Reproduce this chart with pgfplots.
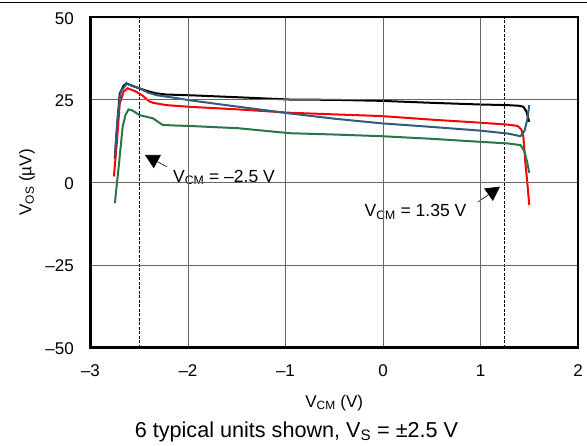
\documentclass[border=0pt]{standalone}
\usepackage{fontspec}
\setmainfont{Liberation Sans}
\usepackage{pgfplots}
\pgfplotsset{compat=1.18}
\usetikzlibrary{arrows.meta}
\definecolor{cblue}{RGB}{46,92,122}
\definecolor{cgreen}{RGB}{40,118,72}
\definecolor{cred}{RGB}{255,0,0}
\begin{document}
\begin{tikzpicture}
\useasboundingbox (-90.5pt,-97.5pt) rectangle (496.5pt,347.5pt);
\draw[line width=0.8pt] (-90.5pt,344.8pt) -- (496.5pt,344.8pt);
\begin{axis}[
  at={(0pt,0pt)}, anchor=south west,
  width=487.5pt, height=330.2pt, scale only axis,
  xmin=-3, xmax=2, ymin=-50, ymax=50,
  xtick={-3,-2,-1,0,1,2}, ytick={-50,-25,0,25,50},
  xticklabels={–3,–2,–1,0,1,2},
  yticklabels={–50,–25,0,25,50},
  major tick length=0pt,
  grid=major,
  major grid style={black!60, line width=0.8pt},
  axis line style={line width=2.2pt},
  axis on top,
  tick label style={font=\fontsize{17}{20}\selectfont},
  xticklabel style={anchor=base, yshift=-28.5pt},
  yticklabel style={anchor=east, inner sep=0pt, xshift=-16.5pt, yshift=-1pt},
  label style={font=\fontsize{17}{20}\selectfont},
  xlabel={V\textsubscript{CM} (V)},
  xlabel style={at={(axis description cs:0.5,-0.1802)}, anchor=base},
  ylabel={V\textsubscript{OS} (µV)},
  ylabel style={at={(axis description cs:-0.1303,0.5)}, anchor=center},
  clip=false,
]
% reference lines
\addplot[black, line width=0.6pt, dash pattern=on 3pt off 1.5pt] coordinates {(-2.5,-50) (-2.5,50)};
\addplot[black, line width=0.6pt, dash pattern=on 3pt off 1.5pt] coordinates {(1.24,-50) (1.24,50)};
% black
\addplot[black, line width=2pt] coordinates {
(-2.75,7.3) (-2.73,16) (-2.70,26.9) (-2.66,29.3) (-2.63,30.0) (-2.57,29.2) (-2.50,28.5) (-2.42,27.7)
(-2.33,27.0) (-2.22,26.6) (-1.99,26.4) (-1.5,25.8) (-0.96,25.1) (-0.5,25.0) (-0.02,24.7) (0.5,24.1)
(0.99,23.6) (1.28,23.4) (1.40,23.2) (1.44,22.9) (1.47,21.5) (1.50,18.4)};
% red
\addplot[cred, line width=2pt] coordinates {
(-2.76,1.8) (-2.73,12) (-2.70,23.9) (-2.66,27.5) (-2.62,28.5) (-2.54,27.6) (-2.47,26.4) (-2.40,24.6)
(-2.36,24.1) (-2.22,23.4) (-1.99,22.9) (-1.48,22.1) (-0.96,21.1) (-0.5,20.6) (-0.02,20.1) (0.5,19.0)
(0.99,18.1) (1.28,17.5) (1.38,17.1) (1.42,16.0) (1.44,13.8) (1.46,6) (1.48,0) (1.50,-6.8)};
% green
\addplot[cgreen, line width=2pt] coordinates {
(-2.75,-6.3) (-2.71,5) (-2.67,16.9) (-2.64,20.5) (-2.61,22.1) (-2.57,21.8) (-2.53,21.0) (-2.50,20.4)
(-2.43,19.9) (-2.36,19.4) (-2.26,17.4) (-2.11,17.2) (-1.99,17.1) (-1.48,16.4) (-0.96,14.9) (-0.5,14.5)
(-0.02,14.0) (0.5,13.2) (0.99,12.3) (1.28,11.8) (1.41,11.3) (1.45,9.5) (1.48,6) (1.50,2.9)};
% blue
\addplot[cblue, line width=2pt] coordinates {
(-2.75,7.8) (-2.72,20) (-2.69,27.5) (-2.63,29.8) (-2.56,29.2) (-2.49,28.4) (-2.41,27.2) (-2.32,26.4)
(-2.11,25.5) (-1.99,24.9) (-1.48,22.9) (-0.96,20.9) (-0.5,19.3) (-0.02,17.9) (0.5,16.8) (0.99,15.7)
(1.28,14.8) (1.41,14.0) (1.45,15.5) (1.48,19) (1.50,23.4)};
% annotations
\fill[white] (axis cs:-2.267,6.48) rectangle (axis cs:-0.851,-6.84);
\fill[white] (axis cs:-0.390,-2.91) rectangle (axis cs:1.097,-14.42);
\node[anchor=base, font=\fontsize{17.5}{20}\selectfont] at (axis cs:-1.631,0.12) {V\textsubscript{CM} = –2.5 V};
\node[anchor=base, font=\fontsize{17.5}{20}\selectfont] at (axis cs:0.333,-10.39) {V\textsubscript{CM} = 1.35 V};
\draw[line width=0.6pt, -{Triangle[length=14pt,width=15pt]}] (axis cs:-2.218,4.76) -- (axis cs:-2.441,8.30);
\draw[line width=0.6pt, -{Triangle[length=14pt,width=15pt]}] (axis cs:0.974,-5.94) -- (axis cs:1.200,-1.30);
\end{axis}
\node[anchor=base, font=\fontsize{21.6}{24}\selectfont] at (206pt,-89.5pt) {6 typical units shown, V\textsubscript{S} = ±2.5 V};
\end{tikzpicture}
\end{document}
